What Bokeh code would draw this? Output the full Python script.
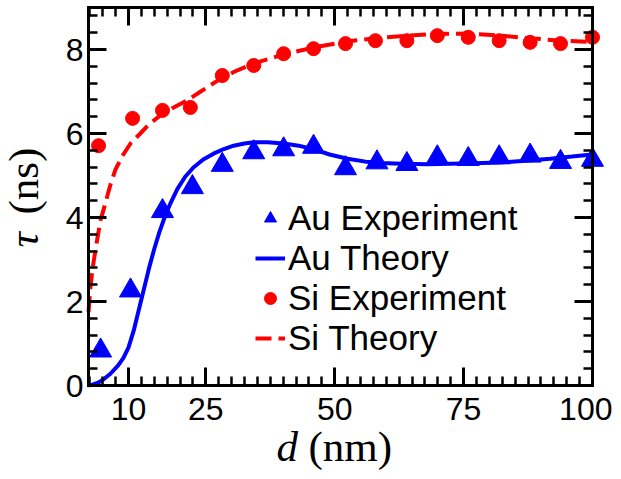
from bokeh.plotting import figure
from bokeh.models import (FixedTicker, LinearAxis, Range1d, Legend, LegendItem, Label,
                          CustomJSTickFormatter)
from bokeh.embed import file_html
from bokeh.resources import INLINE

# ---------------- data ----------------
x_ticks = [10, 25, 50, 75, 100]
y_ticks = [0, 2, 4, 6, 8]
x_minor = [2.5 * i for i in range(1, 41)]
y_minor = [0.4 * i for i in range(0, 23)]

d_au_exp = [4.6, 10.4, 16.6, 22.4, 28.2, 34.3, 40.1, 45.9, 52.1, 58.2, 64.0, 69.9, 75.9, 81.9, 87.9, 93.8, 100.0]
tau_au_exp = [0.83, 2.26, 4.15, 4.72, 5.25, 5.55, 5.62, 5.68, 5.17, 5.31, 5.27, 5.43, 5.39, 5.43, 5.47, 5.32, 5.37]

d_si_exp = [4.2, 10.8, 16.6, 22.0, 28.2, 34.3, 40.1, 45.9, 52.1, 57.9, 64.0, 69.9, 75.9, 81.9, 87.9, 93.8, 100.0]
tau_si_exp = [5.71, 6.36, 6.55, 6.62, 7.38, 7.62, 7.90, 8.02, 8.14, 8.21, 8.21, 8.33, 8.29, 8.21, 8.17, 8.14, 8.29]

d_au_th = [2.25, 3.0, 4.0, 5.0, 6.5, 8.0, 9.0, 10.0, 11.0, 12.0, 13.0, 14.0, 15.0, 16.0, 17.0, 18.0,
           19.5, 21.0, 22.6, 24.5, 26.5, 28.5, 30.4, 32.5, 34.3, 37.0, 40.1, 43.0, 46.0, 49.0, 52.5,
           56.0, 59.0, 63.0, 68.0, 72.4, 77.0, 82.0, 87.0, 91.8, 96.0, 100.0]
tau_au_th = [0.0, 0.02, 0.06, 0.13, 0.28, 0.48, 0.65, 0.9, 1.3, 1.8, 2.3, 2.8, 3.25, 3.65, 4.0, 4.3,
             4.68, 4.97, 5.19, 5.38, 5.52, 5.63, 5.71, 5.76, 5.79, 5.79, 5.76, 5.71, 5.62, 5.5, 5.4,
             5.33, 5.3, 5.28, 5.27, 5.28, 5.29, 5.31, 5.35, 5.4, 5.45, 5.5]

d_si_th = [2.25, 2.6, 3.0, 3.5, 3.9, 4.6, 5.2, 6.5, 7.5, 9.0, 10.5, 12.3, 14.0, 16.2, 18.5, 21.4,
           24.0, 27.3, 30.5, 34.3, 40.1, 46.0, 53.0, 58.0, 64.0, 70.0, 75.7, 82.0, 88.6, 94.0, 100.0]
tau_si_th = [1.75, 2.3, 2.75, 3.15, 3.45, 3.95, 4.2, 4.78, 5.15, 5.5, 5.78, 6.0, 6.22, 6.43, 6.6, 6.79,
             7.0, 7.26, 7.47, 7.67, 7.88, 8.05, 8.2, 8.27, 8.33, 8.37, 8.38, 8.33, 8.26, 8.21, 8.18]

BLUE = "#0000ff"
RED = "#ff0000"
SANS = "Liberation Sans"
SERIF = "Liberation Serif"

# ---------------- layout (pixels) ----------------
W, H = 612, 478
FRAME_L, FRAME_R, FRAME_T, FRAME_B = 88, 592, 7, 385
X_LO, X_HI, Y_LO, Y_HI = 2.25, 100.0, 0.0, 9.0
sx = (X_HI - X_LO) / (FRAME_R - FRAME_L)
sy = (Y_HI - Y_LO) / (FRAME_B - FRAME_T)

p = figure(width=W, height=H, title=None,
           x_range=Range1d(X_LO - FRAME_L * sx, X_HI + (W - FRAME_R) * sx),
           y_range=Range1d(Y_LO - (H - FRAME_B) * sy, Y_HI + FRAME_T * sy),
           output_backend="svg", toolbar_location=None,
           min_border_left=0, min_border_right=0, min_border_top=0, min_border_bottom=0)
p.outline_line_color = None
p.grid.visible = False
p.background_fill_color = "white"
p.border_fill_color = "white"


def style_axis(ax, ticks, minor, loc, bounds, labels=True):
    ax.ticker = FixedTicker(ticks=ticks, minor_ticks=minor)
    ax.fixed_location = loc
    ax.bounds = bounds
    ax.axis_line_width = 3
    ax.axis_line_color = "black"
    ax.axis_line_cap = "square"
    ax.major_tick_in = 18
    ax.major_tick_out = 0
    ax.minor_tick_in = 9
    ax.minor_tick_out = 0
    ax.major_tick_line_width = 3
    ax.minor_tick_line_width = 2.5
    ax.major_tick_line_color = "black"
    ax.minor_tick_line_color = "black"
    ax.axis_label = None
    if labels:
        ax.major_label_text_font = SANS
        ax.major_label_text_font_size = "32px"
        ax.major_label_text_color = "black"
    else:
        ax.formatter = CustomJSTickFormatter(code="return ''")
        ax.major_label_standoff = 0


style_axis(p.xaxis[0], x_ticks, x_minor, Y_LO, (X_LO, X_HI))
p.xaxis[0].major_label_standoff = 12
style_axis(p.yaxis[0], y_ticks, y_minor, X_LO, (Y_LO, Y_HI))
p.yaxis[0].major_label_standoff = 5

top_ax = LinearAxis()
p.add_layout(top_ax, "above")
style_axis(top_ax, x_ticks, x_minor, Y_HI, (X_LO, X_HI), labels=False)
right_ax = LinearAxis()
p.add_layout(right_ax, "right")
style_axis(right_ax, y_ticks, y_minor, X_HI, (Y_LO, Y_HI), labels=False)

# theory curves
r_au_th = p.line(d_au_th, tau_au_th, line_color=BLUE, line_width=4)
r_si_th = p.line(d_si_th, tau_si_th, line_color=RED, line_width=4, line_dash="16 7")
# experiments
r_au_exp = p.scatter(d_au_exp, tau_au_exp, marker="triangle", size=22, fill_color=BLUE, line_color=BLUE)
r_si_exp = p.scatter(d_si_exp, tau_si_exp, marker="circle", size=14, fill_color=RED, line_color=RED)

legend = Legend(items=[
    LegendItem(label="Au Experiment", renderers=[r_au_exp]),
    LegendItem(label="Au Theory", renderers=[r_au_th]),
    LegendItem(label="Si Experiment", renderers=[r_si_exp]),
    LegendItem(label="Si Theory", renderers=[r_si_th]),
], location=(255, H - 358), padding=0, margin=0, spacing=0,
    border_line_color=None, background_fill_alpha=0,
    label_text_font=SANS, label_text_font_size="35px", label_text_color="black",
    glyph_width=30, glyph_height=40, label_height=40, label_standoff=3)
p.add_layout(legend)

# axis titles: italic symbol + upright unit (frame covers whole canvas, so no clipping)
title_kw = dict(x_units="screen", y_units="screen", text_font=SERIF, text_font_size="43px",
                text_color="black", text_baseline="middle", text_align="left")
p.add_layout(Label(x=276, y=H - 446, text="d", text_font_style="italic", **title_kw))
p.add_layout(Label(x=308, y=H - 446, text="(nm)", **title_kw))
p.add_layout(Label(x=23, y=H - 247, text="τ", text_font_style="italic", angle=1.5707963, **title_kw))
p.add_layout(Label(x=23, y=H - 214, text="(ns)", angle=1.5707963, **title_kw))

open("out.html", "w").write(file_html(p, INLINE))
